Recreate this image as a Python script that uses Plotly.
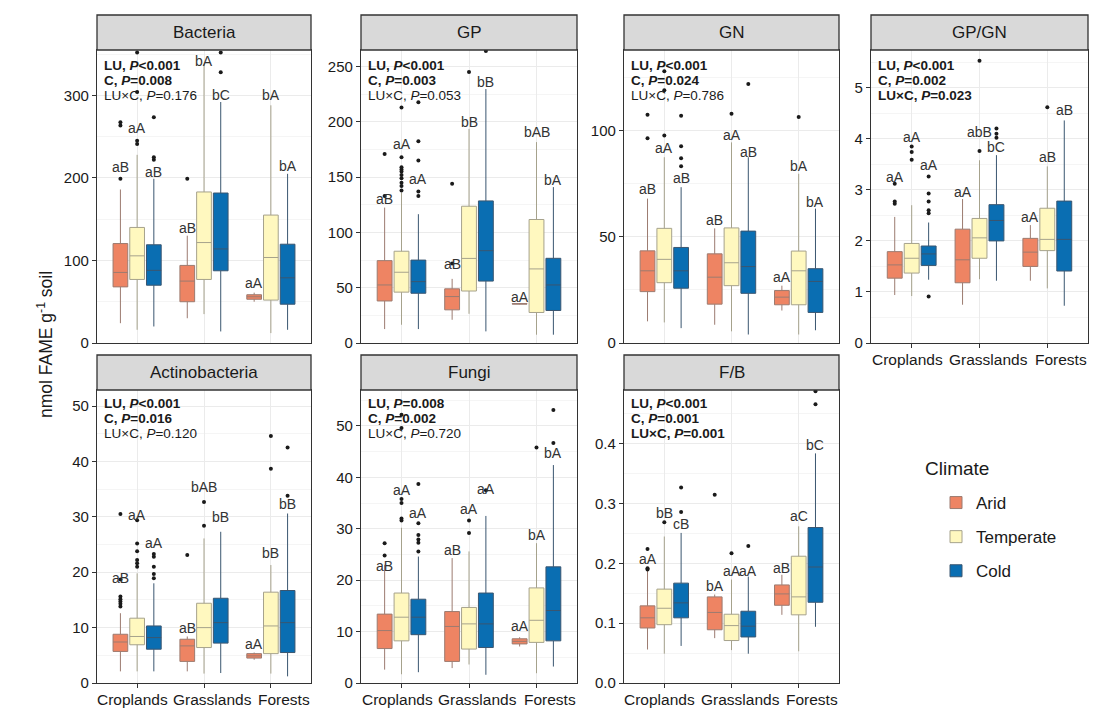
import plotly.graph_objects as go

# ---------------- data ----------------
CATEGORIES = ["Croplands", "Grasslands", "Forests"]
CLIMATES = ["Arid", "Temperate", "Cold"]
PANELS = ["Bacteria", "GP", "GN", "GP/GN", "Actinobacteria", "Fungi", "F/B"]

# order of the 9 boxes in every list below:
# Croplands-Arid, Croplands-Temperate, Croplands-Cold,
# Grasslands-Arid, Grasslands-Temperate, Grasslands-Cold,
# Forests-Arid, Forests-Temperate, Forests-Cold

BAC_LOW = [24, 16, 20, 30, 35, 14, 50, 12, 16]
BAC_Q1 = [68, 77, 70, 50, 77, 87.5, 53, 52, 47]
BAC_MED = [85.5, 105.6, 88, 75, 121.7, 114, 56, 103.6, 79]
BAC_Q3 = [120.5, 140, 119, 94, 183, 181.7, 58.5, 155, 119.7]
BAC_HIGH = [186, 228, 199, 130, 338, 292, 61, 288, 205]
BAC_OUT = [[199, 263.6, 267.6], [241, 245, 304, 352], [222, 225, 273.6], [199], [],
           [328, 352], [], [], []]
BAC_LETTERS = ["aB", "aA", "aB", "aB", "bA", "bC", "aA", "bA", "bA"]
BAC_LETTER_Y = [213, 261, 207, 139, 342, 300, 73, 300, 215]
BAC_STATS = [("LU", "<0.001", True), ("C", "=0.008", True), ("LU×C", "=0.176", False)]

GP_LOW = [12.6, 16.5, 12.6, 21, 26.4, 10.5, 35.0, 7.5, 7.5]
GP_Q1 = [38, 46, 45, 30, 47, 56, 35.2, 27.6, 29.4]
GP_MED = [52.5, 64, 55.5, 42, 76.5, 83.5, 35.4, 67, 52.5]
GP_Q3 = [74.5, 83, 75, 49, 123.7, 128.5, 35.6, 111.7, 76.6]
GP_HIGH = [122.5, 136, 116.5, 58, 193.7, 229.7, 35.8, 181.7, 141]
GP_OUT = [[133, 171], [138, 142, 145, 149, 152, 155, 157, 159, 168, 213],
          [133, 137, 165, 182.5, 217.7], [72, 144], [245], [264], [], [], []]
GP_LETTERS = ["aB", "aA", "aA", "aB", "bB", "bB", "aA", "bAB", "bA"]
GP_LETTER_Y = [130.6, 180, 148.6, 71.5, 199.7, 235.7, 41.4, 190.7, 147]
GP_STATS = [("LU", "<0.001", True), ("C", "=0.003", True), ("LU×C", "=0.053", False)]

GN_LOW = [10.2, 9.7, 7, 8.6, 5.5, 4, 15.3, 4, 6]
GN_Q1 = [24.2, 28.4, 25.8, 18.3, 27, 23.4, 18, 18, 14.4]
GN_MED = [34, 39.4, 34, 31, 37.8, 36, 21.6, 34, 29]
GN_Q3 = [43.4, 54, 45, 42, 54.2, 52.7, 24.7, 43.3, 35]
GN_HIGH = [68, 87.5, 73.4, 54, 94.5, 87.5, 27, 79.7, 63.3]
GN_OUT = [[96.4, 107.5], [97.7, 119, 128], [83.3, 87, 92.7, 107], [], [108], [122],
          [], [106.5], []]
GN_LETTERS = ["aB", "aA", "aB", "aB", "aA", "aB", "aA", "bA", "bA"]
GN_LETTER_Y = [72.7, 92, 77.8, 57.8, 98, 90, 31.3, 83.6, 66.4]
GN_STATS = [("LU", "<0.001", True), ("C", "=0.024", True), ("LU×C", "=0.786", False)]

GPGN_LOW = [0.94, 0.92, 1.24, 0.75, 1.25, 1.22, 1.22, 1.07, 0.73]
GPGN_Q1 = [1.27, 1.37, 1.52, 1.18, 1.66, 2.0, 1.5, 1.81, 1.41]
GPGN_MED = [1.53, 1.66, 1.745, 1.63, 2.06, 2.4, 1.78, 2.03, 2.03]
GPGN_Q3 = [1.79, 1.95, 1.9, 2.23, 2.44, 2.71, 2.05, 2.64, 2.78]
GPGN_HIGH = [2.47, 2.7, 2.36, 2.82, 3.58, 3.68, 2.31, 3.46, 4.36]
GPGN_OUT = [[2.73, 2.77, 3.12], [3.59, 3.74, 3.85], [0.91, 2.54, 2.6, 2.77, 2.93, 3.26],
            [], [3.76, 5.53], [4.02, 4.1, 4.2], [], [4.62], []]
GPGN_LETTERS = ["aA", "aA", "aA", "aA", "abB", "bC", "aA", "aB", "aB"]
GPGN_LETTER_Y = [3.26, 4.04, 3.48, 2.96, 4.13, 3.84, 2.47, 3.65, 4.56]
GPGN_STATS = [("LU", "<0.001", True), ("C", "=0.002", True), ("LU×C", "=0.023", True)]

ACT_LOW = [2.1, 2.1, 2.1, 2.1, 1.7, 1.8, 4.2, 1.7, 1.2]
ACT_Q1 = [5.7, 6.9, 6.1, 3.9, 6.4, 7.2, 4.5, 5.3, 5.5]
ACT_MED = [7.4, 8.4, 8.2, 6.7, 10, 10.9, 4.9, 10.3, 10.9]
ACT_Q3 = [8.8, 11.7, 10.3, 7.9, 14.4, 15.3, 5.3, 16.4, 16.7]
ACT_HIGH = [12.6, 19.8, 18, 8.4, 26.1, 27.3, 5.5, 21.3, 30.6]
ACT_OUT = [[13.8, 14.3, 14.7, 15.1, 15.6, 18.7, 30.5], [21, 21.6, 22.2, 23.8, 25.2, 29.4],
           [18.9, 19.7, 21, 22.8, 23.3], [23.1], [28.4, 32.7], [], [], [38.7, 44.6],
           [33.8, 42.5]]
ACT_LETTERS = ["aB", "aA", "aA", "aB", "bAB", "bB", "aA", "bB", "bB"]
ACT_LETTER_Y = [19, 30.3, 25.2, 10, 35.3, 30, 7.1, 23.4, 32.4]
ACT_STATS = [("LU", "<0.001", True), ("C", "=0.016", True), ("LU×C", "=0.120", False)]

FUN_LOW = [2.6, 1.7, 2.1, 2.9, 3.6, 1.6, 7.1, 1.9, 3.2]
FUN_Q1 = [6.7, 8.2, 9.4, 4.2, 6.6, 6.9, 7.6, 7.9, 8.2]
FUN_MED = [10.2, 12.8, 12.8, 11, 11.5, 11.5, 8.1, 12.2, 14.1]
FUN_Q3 = [13.4, 17.5, 16.3, 13.9, 14.7, 17.5, 8.6, 18.5, 22.6]
FUN_HIGH = [23, 30.2, 24.6, 24.3, 25.6, 32.5, 8.9, 27.2, 42.4]
FUN_OUT = [[24.8, 27.2], [31.6, 32.0, 35.0, 35.8, 49.6, 52.2],
           [25.6, 27.3, 27.9, 28.8, 31.1, 38.7], [], [29.2, 31.6], [37.5], [], [45.8],
           [46.7, 53.1]]
FUN_LETTERS = ["aB", "aA", "aA", "aB", "aA", "aA", "aA", "bA", "bA"]
FUN_LETTER_Y = [22.7, 37.6, 33, 25.9, 33.9, 37.7, 11, 28.8, 44.8]
FUN_STATS = [("LU", "=0.008", True), ("C", "=0.002", True), ("LU×C", "=0.720", False)]

FB_LOW = [0.056, 0.049, 0.062, 0.075, 0.055, 0.049, 0.114, 0.053, 0.094]
FB_Q1 = [0.092, 0.0975, 0.109, 0.089, 0.071, 0.077, 0.13, 0.114, 0.135]
FB_MED = [0.109, 0.125, 0.134, 0.118, 0.096, 0.095, 0.149, 0.144, 0.194]
FB_Q3 = [0.129, 0.157, 0.167, 0.144, 0.115, 0.12, 0.164, 0.212, 0.26]
FB_HIGH = [0.188, 0.245, 0.251, 0.148, 0.173, 0.178, 0.181, 0.262, 0.384]
FB_OUT = [[0.19, 0.192, 0.224], [0.269], [0.286, 0.327], [0.315], [0.217], [0.229],
          [], [], [0.466, 0.488]]
FB_LETTERS = ["aA", "bB", "cB", "bA", "aA", "aA", "aB", "aC", "bC"]
FB_LETTER_Y = [0.207, 0.285, 0.266, 0.162, 0.188, 0.188, 0.192, 0.279, 0.398]
FB_STATS = [("LU", "<0.001", True), ("C", "=0.001", True), ("LU×C", "=0.001", True)]

# ---------------- styling ----------------
FILL = {"Arid": "#EE8463", "Temperate": "#FFF8BF", "Cold": "#0A6EB2"}
EDGE = {"Arid": "#9c7b70", "Temperate": "#a6a28c", "Cold": "#3a5670"}
FONT = "Liberation Sans, Arial, sans-serif"
TXT = "#1a1a1a"

panel_data = [
    (BAC_LOW, BAC_Q1, BAC_MED, BAC_Q3, BAC_HIGH, BAC_OUT, BAC_LETTERS, BAC_LETTER_Y, BAC_STATS),
    (GP_LOW, GP_Q1, GP_MED, GP_Q3, GP_HIGH, GP_OUT, GP_LETTERS, GP_LETTER_Y, GP_STATS),
    (GN_LOW, GN_Q1, GN_MED, GN_Q3, GN_HIGH, GN_OUT, GN_LETTERS, GN_LETTER_Y, GN_STATS),
    (GPGN_LOW, GPGN_Q1, GPGN_MED, GPGN_Q3, GPGN_HIGH, GPGN_OUT, GPGN_LETTERS, GPGN_LETTER_Y, GPGN_STATS),
    (ACT_LOW, ACT_Q1, ACT_MED, ACT_Q3, ACT_HIGH, ACT_OUT, ACT_LETTERS, ACT_LETTER_Y, ACT_STATS),
    (FUN_LOW, FUN_Q1, FUN_MED, FUN_Q3, FUN_HIGH, FUN_OUT, FUN_LETTERS, FUN_LETTER_Y, FUN_STATS),
    (FB_LOW, FB_Q1, FB_MED, FB_Q3, FB_HIGH, FB_OUT, FB_LETTERS, FB_LETTER_Y, FB_STATS),
]

Y_RANGES = [[0, 355], [0, 265], [0, 138], [0, 5.74], [0, 52.9], [0, 57], [0, 0.49]]
Y_DTICK = [100, 50, 50, 1, 10, 10, 0.1]

W, H = 1100, 720
COL_X = [(97, 311), (361, 577), (624, 839), (871, 1088)]
ROW_Y = [(50, 343), (390, 683)]
STRIP_Y = [(15, 50), (355, 390)]
STAT_OFFSETS = [[15.5, 30.5, 45.5], [13.5, 28.5, 43.5]]  # px below panel top
CAT_LABEL_POS = [0.167, 0.541, 0.876]  # fraction of panel width (label centres)
OFFSET = 0.25
BOX_W = 0.22

fig = go.Figure()
annotations = []
shapes = []
layout_axes = {}

for p, name in enumerate(PANELS):
    low, q1, med, q3, high, outs, letters, letter_y, stats = panel_data[p]
    row, col = divmod(p, 4)
    ax = "" if p == 0 else str(p + 1)
    xref, yref = "x" + ax, "y" + ax
    x0, x1 = COL_X[col]
    y0, y1 = ROW_Y[row]
    s0, s1 = STRIP_Y[row]
    ph = y1 - y0
    for k, clim in enumerate(CLIMATES):
        idx = [j * 3 + k for j in range(3)]
        xs = [j + 1 + (k - 1) * OFFSET for j in range(3)]
        fig.add_trace(go.Box(
            x=xs,
            q1=[q1[i] for i in idx], median=[med[i] for i in idx], q3=[q3[i] for i in idx],
            lowerfence=[low[i] for i in idx], upperfence=[high[i] for i in idx],
            width=BOX_W, whiskerwidth=0, boxpoints=False,
            fillcolor=FILL[clim], line=dict(color=EDGE[clim], width=1),
            name=clim, legendgroup=clim, showlegend=(p == 0),
            xaxis=xref, yaxis=yref,
        ))
        ox, oy = [], []
        for j, i in enumerate(idx):
            for v in outs[i]:
                ox.append(xs[j])
                oy.append(v)
        if ox:
            fig.add_trace(go.Scatter(
                x=ox, y=oy, mode="markers",
                marker=dict(color="#1a1a1a", size=4),
                showlegend=False, legendgroup=clim, hoverinfo="y",
                xaxis=xref, yaxis=yref,
            ))
        for j, i in enumerate(idx):
            annotations.append(dict(
                x=xs[j], y=letter_y[i], xref=xref, yref=yref, text=letters[i],
                showarrow=False, font=dict(family=FONT, size=14, color="#333333"),
                xanchor="center", yanchor="middle",
            ))
    # stats text, one annotation per line
    for li, (term, pv, bold) in enumerate(stats):
        t = f"{term}, <i>P</i>{pv.replace('<', '&lt;')}"
        if bold:
            t = f"<b>{t}</b>"
        annotations.append(dict(
            x=5 / (x1 - x0), y=1 - STAT_OFFSETS[row][li] / ph,
            xref=xref + " domain", yref=yref + " domain",
            text=t, showarrow=False, align="left",
            xanchor="left", yanchor="middle",
            font=dict(family=FONT, size=13.5, color=TXT),
        ))
    show_x = (row == 1) or (p == 3)
    if show_x:
        for c, cat in enumerate(CATEGORIES):
            annotations.append(dict(
                x=CAT_LABEL_POS[c], y=-16.5 / ph,
                xref=xref + " domain", yref=yref + " domain",
                text=cat, showarrow=False, xanchor="center", yanchor="middle",
                font=dict(family=FONT, size=15.5, color=TXT),
            ))
    layout_axes["xaxis" + ax] = dict(
        domain=[x0 / W, x1 / W], anchor=yref, range=[0.4, 3.6], automargin=False,
        tickvals=[1, 2, 3], ticktext=CATEGORIES, showticklabels=False,
        ticks="outside" if show_x else "", ticklen=4, tickcolor="#333333",
        showgrid=True, gridcolor="#EBEBEB", gridwidth=1, zeroline=False,
        showline=True, linecolor="#333333", linewidth=1.3, mirror=True,
    )
    layout_axes["yaxis" + ax] = dict(
        domain=[1 - y1 / H, 1 - y0 / H], anchor=xref, range=Y_RANGES[p], automargin=False,
        dtick=Y_DTICK[p], tick0=0, ticks="outside", ticklen=4, tickcolor="#333333",
        tickformat=".1f" if name == "F/B" else None,
        showgrid=True, gridcolor="#EBEBEB", gridwidth=1, zeroline=False,
        minor=dict(dtick=Y_DTICK[p] / 2, showgrid=True, gridcolor="#F5F5F5", ticklen=0),
        showline=True, linecolor="#333333", linewidth=1.3, mirror=True,
        tickfont=dict(family=FONT, size=15, color=TXT),
    )
    # strip
    shapes.append(dict(type="rect", xref="paper", yref="paper",
                       x0=x0 / W, x1=x1 / W, y0=1 - s1 / H, y1=1 - s0 / H,
                       fillcolor="#D9D9D9", line=dict(color="#333333", width=1.3), layer="above"))
    annotations.append(dict(
        x=(x0 + x1) / 2 / W, y=1 - (s0 + s1) / 2 / H, xref="paper", yref="paper",
        text=name, showarrow=False, xanchor="center", yanchor="middle",
        font=dict(family=FONT, size=17, color=TXT),
    ))

annotations.append(dict(
    x=45 / W, y=1 - 345 / H, xref="paper", yref="paper",
    text="nmol FAME g<sup>-1</sup> soil", textangle=-90, showarrow=False,
    xanchor="center", yanchor="middle",
    font=dict(family=FONT, size=17.5, color=TXT),
))
# legend title
annotations.append(dict(
    x=923 / W, y=1 - 468 / H, xref="paper", yref="paper",
    text="Climate", showarrow=False, xanchor="left", yanchor="middle",
    font=dict(family=FONT, size=19, color=TXT),
))

fig.update_layout(
    width=W, height=H, margin=dict(l=0, r=0, t=0, b=0, autoexpand=False),
    paper_bgcolor="white", plot_bgcolor="white",
    font=dict(family=FONT, color=TXT),
    annotations=annotations, shapes=shapes,
    legend=dict(
        font=dict(family=FONT, size=17, color=TXT), x=936 / W, y=1 - 485 / H,
        xanchor="left", yanchor="top", tracegroupgap=9, bgcolor="rgba(0,0,0,0)",
    ),
    boxmode="overlay",
    **layout_axes,
)

fig.write_html(
    "out.html",
    config={"displayModeBar": False},
    post_script="document.body.style.margin='0';document.body.style.overflow='hidden';",
)
